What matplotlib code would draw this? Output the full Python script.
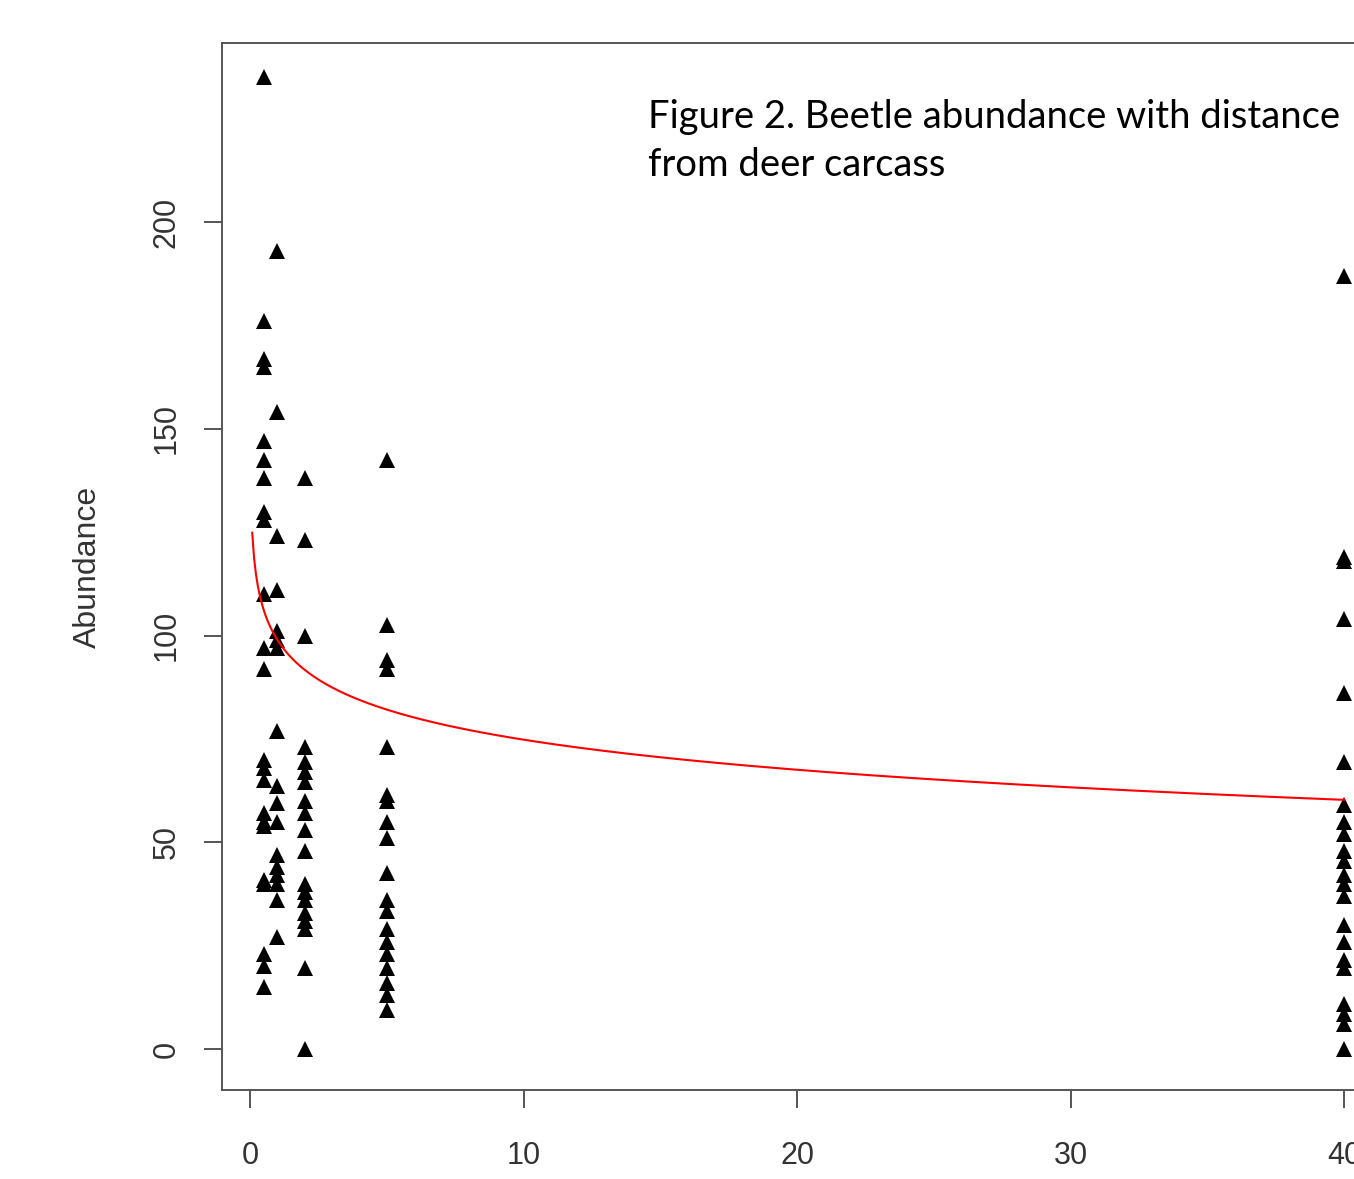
import matplotlib
matplotlib.use("Agg")
import matplotlib.pyplot as plt
import numpy as np

# Abundance counts, grouped by distance from carcass (m)
distances = [0.5, 1, 2, 5, 40]
abund_05 = [235, 176, 167, 165, 147, 142.5, 138, 130, 128, 110, 97, 92,
            70, 68, 65, 57, 55, 54, 41, 40, 23, 20, 15]
abund_1 = [193, 154, 124, 111, 101, 99, 97, 77, 63.5, 59.5, 55, 47, 44,
           42, 40, 36, 27]
abund_2 = [138, 123, 100, 73, 69.5, 67, 64.5, 60, 57, 53, 48, 40, 38, 36,
           33, 31, 29, 19.5, 0]
abund_5 = [142.5, 102.5, 94, 92, 73, 61.5, 60, 55, 51, 42.5, 36, 33.5, 29,
           26, 23, 19.5, 16, 13, 9.5]
abund_40 = [187, 119, 118, 104, 86, 69.5, 59, 55, 52, 48, 45.5, 42, 40, 37,
            30, 26, 21.5, 19.5, 11, 8.5, 6, 0]
abundances = [abund_05, abund_1, abund_2, abund_5, abund_40]

# log fit drawn in the figure: abundance = a + b * ln(distance)
fit_a = 99.0
fit_b = -10.5
fit_from, fit_to = 0.085, 40

x_ticks = [0, 10, 20, 30, 40]
y_ticks = [0, 50, 100, 150, 200]

title_lines = "Figure 2. Beetle abundance with distance\nfrom deer carcass"

W, H = 1354, 1179
fig = plt.figure(figsize=(W / 100, H / 100), dpi=100)
fig.patch.set_facecolor("white")

# axes box in pixels: left 222, right 1386 (off the page), top 43, bottom 1090
ax = fig.add_axes([222 / W, (H - 1090) / H, (1386 - 222) / W, (1090 - 43) / H])

for d, vals in zip(distances, abundances):
    ax.plot([d] * len(vals), vals, linestyle="none", marker="^",
            markersize=11, color="black", markeredgewidth=0, zorder=2)

xs = np.linspace(fit_from, fit_to, 600)
ax.plot(xs, fit_a + fit_b * np.log(xs), color="red", linewidth=1.5, zorder=3)

ax.set_xlim(-1.02, 41.52)
ax.set_ylim(-9.9, 243.3)

axis_col = "#555555"
text_col = "#333333"
for sp in ax.spines.values():
    sp.set_color(axis_col)
    sp.set_linewidth(1.4)

ax.set_xticks(x_ticks)
ax.set_yticks(y_ticks)
ax.tick_params(axis="both", direction="out", length=13, width=1.4,
               color=axis_col, labelcolor=text_col, labelsize=22)
ax.tick_params(axis="x", pad=24)
ax.tick_params(axis="y", pad=16)
for lbl in ax.get_yticklabels():
    lbl.set_rotation(90)
    lbl.set_va("center")
for lbl in ax.get_xticklabels() + ax.get_yticklabels():
    lbl.set_family("Liberation Sans")

fig.text(88 / W, 1 - 567 / H, "Abundance", rotation=90, ha="center",
         va="center", fontsize=23, color=text_col, family="Liberation Sans")

fig.text(648 / W, 1 - 99 / H, title_lines, ha="left", va="top",
         fontsize=27.5, color="black", family="Lato", linespacing=1.4)

fig.savefig("out.png", dpi=100, facecolor="white")
plt.close(fig)
